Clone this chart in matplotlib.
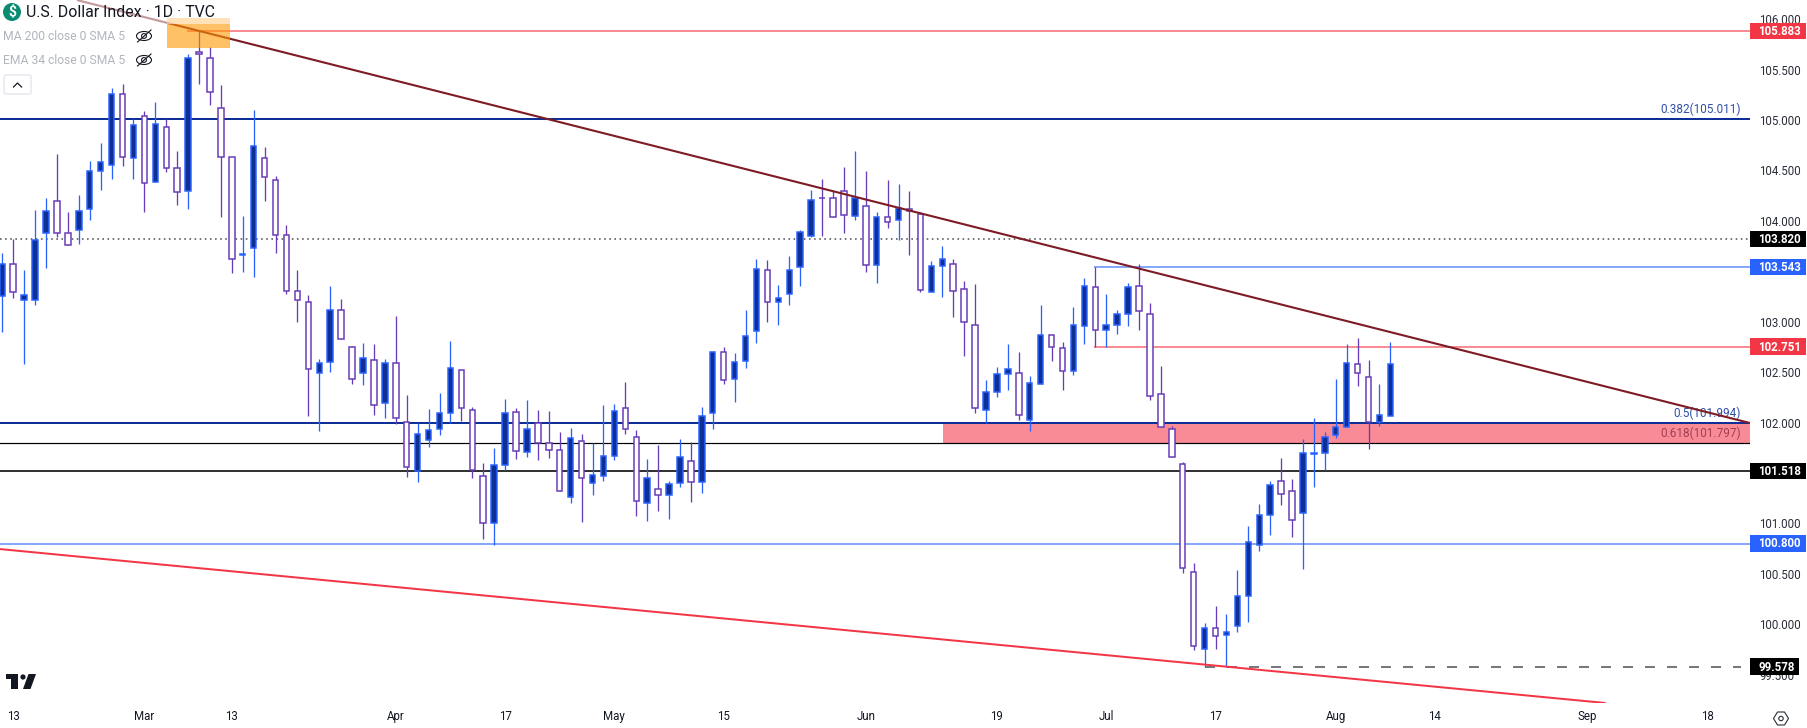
import numpy as np
import matplotlib
matplotlib.use("Agg")
import matplotlib.pyplot as plt
from matplotlib.patches import Rectangle, Circle, Ellipse, Polygon, FancyBboxPatch
from matplotlib.lines import Line2D
from matplotlib.transforms import Affine2D, blended_transform_factory

plt.rcParams['font.family'] = ['Roboto', 'DejaVu Sans']

opens = [103.251,103.568,103.211,103.211,103.876,104.193,103.876,103.906,104.120,104.491,
 104.550,105.254,104.620,105.036,104.382,104.927,104.520,104.292,105.671,105.611,
 105.116,104.630,103.665,103.727,104.620,104.401,103.856,103.301,103.191,102.487,
 102.596,103.112,102.745,102.487,102.616,102.190,102.587,102.002,101.516,101.830,
 101.932,102.091,102.518,102.121,101.466,101.000,101.575,102.101,101.704,101.992,
 101.794,101.724,101.258,101.813,101.397,101.466,101.665,102.141,101.853,101.198,
 101.337,101.278,101.397,101.615,101.407,102.091,102.696,102.428,102.607,102.904,
 103.509,103.192,103.271,103.539,103.846,104.224,104.223,104.293,104.045,104.144,
 103.559,104.035,104.005,104.114,104.065,103.291,103.549,103.569,103.321,102.964,
 102.121,102.299,102.478,102.488,102.021,102.379,102.865,102.736,102.507,102.954,
 103.341,102.914,102.964,103.073,103.351,103.073,102.280,101.933,101.585,100.514,
 99.751,99.959,99.890,99.979,100.276,100.782,101.080,101.417,101.318,101.100,
 101.685,101.695,101.873,101.952,102.577,102.448,102.002,102.062]
closes = [103.568,103.291,103.261,103.806,104.094,103.876,103.757,104.094,104.491,104.580,
 105.254,104.630,104.947,104.372,104.957,104.520,104.282,105.611,105.651,105.274,
 104.630,103.618,103.671,104.739,104.431,103.856,103.301,103.211,102.527,102.586,
 103.112,102.824,102.428,102.636,102.170,102.587,102.041,101.562,101.883,101.922,
 102.091,102.537,102.141,101.526,101.000,101.575,102.091,101.714,101.932,101.794,
 101.724,101.317,101.843,101.446,101.476,101.665,102.111,101.932,101.218,101.446,
 101.278,101.387,101.655,101.407,102.061,102.696,102.418,102.597,102.855,103.519,
 103.192,103.232,103.509,103.886,104.203,104.222,104.035,104.055,104.223,103.559,
 104.035,103.985,104.124,104.098,103.311,103.549,103.618,103.301,102.993,102.140,
 102.299,102.478,102.527,102.071,102.388,102.865,102.746,102.507,102.964,103.351,
 102.914,102.964,103.073,103.341,103.103,102.260,101.952,101.655,100.554,99.780,
 99.959,99.880,99.919,100.276,100.812,101.080,101.377,101.288,101.030,101.695,
 101.695,101.853,101.952,102.587,102.488,102.002,102.071,102.577]
highs = [103.684,103.823,103.512,104.107,104.226,104.663,104.087,104.256,104.593,104.772,
 105.317,105.357,105.006,105.086,105.178,105.006,104.692,105.654,105.883,105.721,
 105.347,104.630,104.048,105.099,104.732,104.441,103.955,103.512,103.264,102.626,
 103.353,103.225,102.758,102.788,102.778,102.630,103.056,102.273,101.992,102.134,
 102.293,102.808,102.518,102.151,101.595,101.744,102.233,102.141,102.223,102.124,
 102.111,101.906,101.946,101.886,101.797,102.174,102.184,102.402,101.922,101.638,
 101.774,101.420,101.836,101.807,102.154,102.706,102.746,102.686,103.116,103.622,
 103.612,103.361,103.651,103.909,104.306,104.415,104.303,104.534,104.693,104.494,
 104.084,104.405,104.365,104.296,104.084,103.602,103.751,103.622,103.403,103.374,
 102.421,102.550,102.779,102.699,102.461,103.165,102.865,102.798,103.146,103.433,
 103.542,103.274,103.116,103.384,103.572,103.185,102.561,101.966,101.605,100.607,
 100.012,100.180,100.101,100.537,100.974,101.192,101.420,101.648,101.440,101.837,
 102.045,101.906,102.432,102.779,102.838,102.620,102.382,102.799]
lows = [102.901,103.238,102.583,103.165,103.535,103.839,103.757,103.770,104.008,104.306,
 104.415,104.544,104.415,104.087,104.382,104.484,104.157,104.117,105.357,105.149,
 104.038,103.482,103.492,103.443,104.196,103.681,103.274,102.996,102.067,101.919,
 102.501,102.824,102.381,102.372,102.074,102.045,101.989,101.460,101.410,101.757,
 101.876,101.992,102.015,101.450,100.848,100.785,101.526,101.638,101.658,101.628,
 101.648,101.317,101.202,101.013,101.281,101.420,101.628,101.886,101.073,101.023,
 101.122,101.043,101.360,101.212,101.301,101.936,102.382,102.203,102.541,102.789,
 102.997,102.967,103.166,103.354,103.843,103.850,104.035,103.879,104.008,103.493,
 103.384,103.929,103.810,103.661,103.294,103.291,103.245,103.046,102.660,102.094,
 101.995,102.253,102.322,102.025,101.916,102.379,102.610,102.322,102.471,102.779,
 102.749,102.749,102.878,102.957,102.917,102.223,101.952,101.655,100.508,99.744,
 99.572,99.754,99.579,99.923,100.022,100.726,100.885,101.182,100.865,100.547,
 101.361,101.529,101.847,101.952,102.362,101.738,101.966,102.062]

x_tick_bars = [1, 13, 21, 36, 46, 56, 66, 79, 91, 101, 111, 122, 131, 145, 156]
x_tick_labels = ['13','Mar','13','Apr','17','May','15','Jun','19','Jul','17','Aug','14','Sep','18']
y_ticks = [99.5,100,100.5,101,102,102.5,103,104,104.5,105,105.5,106]

fib_382, fib_50, fib_618 = 105.011, 101.994, 101.797
level_high, level_dot, level_blue_up, level_red_mid = 105.883, 103.820, 103.543, 102.751
level_black, level_blue_low, level_low = 101.518, 100.800, 99.578

down_trend_x, down_trend_y = [6.83, 159.9], [106.19, 101.995]
up_trend_x, up_trend_y = [-0.21, 146.7], [100.745, 99.218]
zone_start_bar = 86.1
orange_box_bars, orange_box_prices = [15.07, 20.83], [105.714, 106.012]

W, H = 1807, 728
PANE_R, PANE_B = 1750, 703
BAR_PX, BAR0_PX = 10.93, 2.3
PX_PER_UNIT = 100.83
TOP_PRICE = 106.1905

fig = plt.figure(figsize=(W/100, H/100), dpi=100, facecolor='white')
ax = fig.add_axes([0, 1-PANE_B/H, PANE_R/W, PANE_B/H])
ax.set_facecolor('white')
ax.set_xlim(-BAR0_PX/BAR_PX, (PANE_R-BAR0_PX)/BAR_PX)
ax.set_ylim(TOP_PRICE-PANE_B/PX_PER_UNIT, TOP_PRICE)
for s in ax.spines.values():
    s.set_visible(False)

ax.yaxis.tick_right()
ax.set_yticks(y_ticks)
ax.set_yticklabels([f'{v:.3f}' for v in y_ticks])
ax.set_xticks(x_tick_bars)
ax.set_xticklabels(x_tick_labels)
ax.tick_params(axis='y', length=0, pad=6.5, labelsize=8.3, labelcolor='#2a2e39')
ax.tick_params(axis='x', length=0, pad=5.2, labelsize=8.3, labelcolor='#131722')
for t in ax.get_yticklabels():
    t.set_zorder(1)

xs = np.arange(len(opens))
o, h, l, c = map(np.array, (opens, highs, lows, closes))
up = c >= o
px = 0.72
xmax = ax.get_xlim()[1]

# level lines and zone
ax.fill_between([zone_start_bar, xmax], fib_618, fib_50, color='#F98B96', lw=0, zorder=1)
ax.axhline(fib_382, color='#0D2F96', lw=2.0*px, zorder=2)
ax.axhline(fib_50, color='#0D2F96', lw=2.0*px, zorder=2)
ax.axhline(fib_618, color='#000000', lw=1.2*px, zorder=2)
ax.axhline(level_black, color='#333333', lw=2.0*px, zorder=2)
ax.axhline(level_blue_low, color='#86A8FA', lw=2.0*px, zorder=2)
ax.plot([17, xmax], [level_high]*2, color='#F88D94', lw=2.0*px, zorder=2)
ax.plot([100, xmax], [level_blue_up]*2, color='#86A8FA', lw=2.0*px, zorder=2)
ax.plot([100, xmax], [level_red_mid]*2, color='#F88D94', lw=2.0*px, zorder=2)
ax.axhline(level_dot, color='#555555', lw=1.6*px, dashes=(1.0, 2.2), zorder=2)
ax.plot([110, 159.1], [level_low]*2, color='#787878', lw=2.0*px, dashes=(5.0, 6.0), zorder=2)

# candles
ax.vlines(xs[up], l[up], h[up], color='#2962FF', lw=1.3*px, zorder=3)
ax.vlines(xs[~up], l[~up], h[~up], color='#673AB7', lw=1.3*px, zorder=3)
ax.bar(xs[up], (c-o)[up], bottom=o[up], width=0.5, color='#0D2F96', edgecolor='#2962FF', linewidth=1.5*px, zorder=4)
ax.bar(xs[~up], (o-c)[~up], bottom=c[~up], width=0.5, color='white', edgecolor='#673AB7', linewidth=1.5*px, zorder=4)

# trend lines
ax.plot(down_trend_x, down_trend_y, color='#7E1C25', lw=2.1*px, zorder=5, solid_capstyle='butt')
ax.plot(up_trend_x, up_trend_y, color='#F23645', lw=2.0*px, zorder=5, solid_capstyle='butt')

# highlighted box on the high
ax.add_patch(Rectangle((orange_box_bars[0], orange_box_prices[0]), orange_box_bars[1]-orange_box_bars[0],
                       orange_box_prices[1]-orange_box_prices[0], color='#FF9800', alpha=0.6, lw=0, zorder=6))

# fib labels
lx = 1741/PANE_R
tb = blended_transform_factory(ax.transAxes, ax.transData)
ax.text(lx, fib_382+0.1, '0.382(105.011)', transform=tb, ha='right', va='center', fontsize=8.45, color='#2F4FA8', zorder=7)
ax.text(lx, fib_50+0.1, '0.5(101.994)', transform=tb, ha='right', va='center', fontsize=8.45, color='#2F4FA8', zorder=4.5)
ax.text(lx, fib_618+0.1, '0.618(101.797)', transform=tb, ha='right', va='center', fontsize=8.45, color='#A03F55', zorder=7)

# price tags
tags = [(level_high, '#F23645', 1806), (level_blue_up, '#2962FF', 1806), (level_dot, '#000000', 1806),
        (level_red_mid, '#F23645', 1806), (level_black, '#000000', 1806), (level_blue_low, '#2962FF', 1806),
        (level_low, '#000000', 1799)]
for price, col, right in tags:
    ax.add_patch(Rectangle((1, price-0.083), (right-PANE_R)/PANE_R, 0.166, transform=tb, color=col, lw=0,
                           clip_on=False, zorder=8))
    ax.text(1758.5/PANE_R, price-0.004, f'{price:.3f}', transform=tb, ha='left', va='center',
            fontsize=8.3, fontweight='bold', color='white', clip_on=False, zorder=9)

# header, logo, icons in pixel coordinates measured from the top left
T = Affine2D().scale(1, -1).translate(0, H)
def add(p):
    p.set_transform(T)
    p.set_zorder(20)
    fig.add_artist(p)
def ftext(x, y, s, **k):
    fig.text(x/W, 1-y/H, s, va='center', zorder=21, **k)

add(Rectangle((0, 0), 230, 24, facecolor='white', alpha=0.55, lw=0))
add(Circle((12, 12), 9, facecolor='#0B8A72', lw=0))
ftext(12, 12, '$', color='white', fontsize=10, fontweight='bold', ha='center')
ftext(25.5, 12.5, 'U.S. Dollar Index · 1D · TVC', color='#131722', fontsize=11.4, ha='left')
ftext(3, 36.7, 'MA 200 close 0 SMA 5', color='#B2B5BE', fontsize=8.75, ha='left')
ftext(3, 60.7, 'EMA 34 close 0 SMA 5', color='#B2B5BE', fontsize=8.75, ha='left')
for y in (36, 60):
    add(Ellipse((144, y), 15, 9, fill=False, edgecolor='#131722', lw=0.8))
    add(Circle((144, y), 2.4, fill=False, edgecolor='#131722', lw=0.8))
    add(Line2D([137.5, 151], [y+6, y-6], color='#131722', lw=0.8))
add(FancyBboxPatch((4, 75), 27, 19, boxstyle='round,pad=0,rounding_size=2', facecolor='white', edgecolor='#E0E3EB', lw=0.9))
add(Line2D([13.5, 17.5, 21.5], [87, 83, 87], color='#131722', lw=0.9))

logo = '#131722'
add(Polygon([(6, 674), (17.5, 674), (17.5, 689), (10.5, 689), (10.5, 678.7), (6, 678.7)], closed=True, facecolor=logo, lw=0))
add(Circle((23, 677), 2.6, facecolor=logo, lw=0))
add(Polygon([(28.5, 674), (36, 674), (30.5, 689), (23, 689)], closed=True, facecolor=logo, lw=0))

# settings icon
add(Polygon([(1773.5, 718.5), (1777.5, 712), (1784.5, 712), (1788.5, 718.5), (1784.5, 725), (1777.5, 725)], closed=True,
            fill=False, edgecolor='#2a2e39', lw=0.8))
add(Circle((1781, 718.5), 2.2, fill=False, edgecolor='#2a2e39', lw=0.8))

fig.savefig('out.png', dpi=100, facecolor='white')
